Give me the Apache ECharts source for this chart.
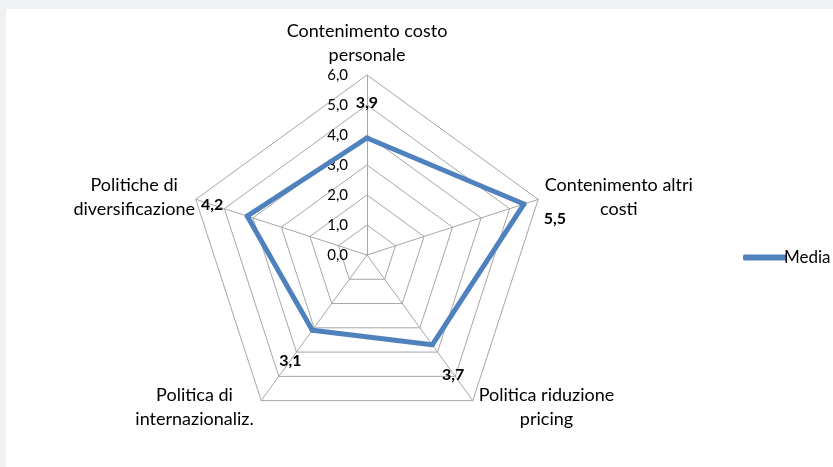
<!DOCTYPE html>
<html>
<head>
<meta charset="utf-8">
<script src="https://cdn.jsdelivr.net/npm/echarts@6/dist/echarts.min.js"></script>
<style>
  html, body { margin: 0; padding: 0; background: #f0f1f4; overflow: hidden; }
  #chart { position: absolute; left: 6px; top: 9px; width: 827px; height: 458px; background: #fff; }
</style>
</head>
<body>
<div id="chart"></div>
<script>
  // indicatori e valori (ordine orario, a partire dall'alto)
  var indicators = ['Contenimento costo\npersonale', 'Contenimento altri\ncosti', 'Politica riduzione\npricing', 'Politica di\ninternazionaliz.', 'Politiche di\ndiversificazione'];
  var mediaValues = [3.9, 5.5, 3.7, 3.1, 4.2];
  var axisMin = 0;
  var axisMax = 6;
  var seriesName = 'Media';

  var fontFamily = 'Lato, "Open Sans", sans-serif';
  var blue = '#4F81BD';
  var gridGray = '#a6a6a6';

  function fmt(v) {
    return v.toFixed(1).replace('.', ',');
  }

  // echarts disegna in senso antiorario: riordino per averlo orario
  var order = [0, 4, 3, 2, 1];
  var radarNames = order.map(function (i) { return indicators[i]; });
  var radarValues = order.map(function (i) { return mediaValues[i]; });

  // spostamento etichette dei valori (come nel grafico Excel)
  var labelPads = [
    [0, 0, 70, 0],
    [30, 0, 0, 62],
    [60, 0, 0, 42],
    [62, 44, 0, 0],
    [0, 70, 22, 0]
  ];
  var rich = {};
  labelPads.forEach(function (p, i) {
    rich['l' + i] = { padding: p, fontWeight: 'bold', fontSize: 16, color: '#000', fontFamily: fontFamily };
  });

  // spostamento nomi degli assi
  var namePads = [
    [0, 0, 0, 0],
    [0, 0, 0, 146],
    [0, 0, 0, 138],
    [0, 124, 0, 0],
    [0, 108, 0, 0]
  ];
  var nameRich = {};
  namePads.forEach(function (p, i) {
    nameRich['n' + i] = { padding: p, align: 'center', color: '#000', fontFamily: fontFamily, fontSize: 18, lineHeight: 24 };
  });

  var chart = echarts.init(document.getElementById('chart'));
  var option = {
    animation: false,
    legend: {
      data: [seriesName],
      left: 732,
      top: 235,
      icon: 'roundRect',
      itemWidth: 44,
      itemHeight: 6,
      itemGap: 10,
      textStyle: { fontFamily: fontFamily, fontSize: 17, color: '#000', padding: [0, 0, 0, -8] }
    },
    radar: {
      center: [361, 246],
      radius: 180,
      startAngle: 90,
      splitNumber: 6,
      shape: 'polygon',
      indicator: radarNames.map(function (name, i) {
        var ind = { name: name, min: axisMin, max: axisMax };
        if (i === 0) {
          ind.axisLabel = { show: true };
        }
        return ind;
      }),
      axisName: {
        color: '#000',
        fontFamily: fontFamily,
        fontSize: 18,
        lineHeight: 24,
        align: 'center',
        formatter: function (name) {
          var i = indicators.indexOf(name);
          return '{n' + i + '|' + name + '}';
        },
        rich: nameRich
      },
      nameGap: 8,
      axisLine: { lineStyle: { color: gridGray, width: 1 } },
      splitLine: { lineStyle: { color: gridGray, width: 1 } },
      splitArea: { show: false },
      axisTick: { show: false },
      axisLabel: {
        show: false,
        color: '#000',
        fontFamily: fontFamily,
        fontSize: 15,
        margin: 19,
        formatter: function (v) { return fmt(v); }
      }
    },
    series: [{
      name: seriesName,
      type: 'radar',
      symbol: 'circle',
      symbolSize: 5,
      itemStyle: { color: blue },
      lineStyle: { color: blue, width: 5 },
      label: {
        show: true,
        position: 'inside',
        formatter: function (p) {
          var i = mediaValues.indexOf(p.value);
          return '{l' + i + '|' + fmt(p.value) + '}';
        },
        rich: rich
      },
      data: [{ name: seriesName, value: radarValues }]
    }]
  };
  chart.setOption(option);
</script>
</body>
</html>
